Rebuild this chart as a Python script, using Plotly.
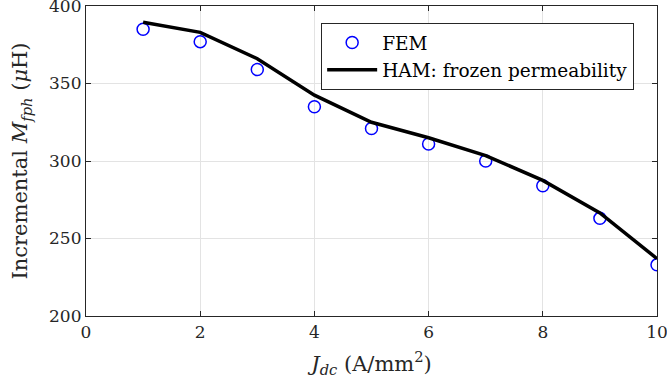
import plotly.graph_objects as go

j_dc = [1, 2, 3, 4, 5, 6, 7, 8, 9, 10]
fem = [385, 377, 359, 335, 321, 311, 300, 284, 263, 233]
ham = [389.5, 383, 366, 342.5, 325, 315, 303.5, 287.5, 266.5, 237]
x_ticks = [0, 2, 4, 6, 8, 10]
y_ticks = [200, 250, 300, 350, 400]

font_family = "DejaVu Serif, Liberation Serif, serif"

fig = go.Figure()
fig.add_trace(go.Scatter(
    x=j_dc, y=fem, mode="markers", name="FEM",
    marker=dict(symbol="circle-open", size=12, color="#0000ff", line=dict(width=1.5, color="#0000ff")),
))
fig.add_trace(go.Scatter(
    x=j_dc, y=ham, mode="lines", name="HAM: frozen permeability",
    line=dict(color="black", width=3.5),
))

axis_common = dict(
    showgrid=True, gridcolor="#e3e3e3", gridwidth=1,
    showline=True, linecolor="#262626", linewidth=1.2, mirror="ticks",
    ticks="inside", ticklen=5, tickcolor="#262626",
    zeroline=False, tickfont=dict(size=17, color="#262626", family=font_family),
    ticklabeloverflow="allow", automargin=False,
)

fig.update_layout(
    width=667, height=385,
    margin=dict(l=86, r=10, t=6, b=69),
    paper_bgcolor="white", plot_bgcolor="white",
    font=dict(family=font_family, color="#262626"),
    showlegend=True,
    legend=dict(
        x=0.96, y=0.945, xanchor="right", yanchor="top",
        bgcolor="white", bordercolor="#262626", borderwidth=1,
        font=dict(size=18.5, color="black", family=font_family),
        itemwidth=50, tracegroupgap=0,
    ),
    xaxis=dict(
        range=[0, 10], tickvals=x_ticks,
        title=dict(text="<i>J</i><sub><i>dc</i></sub> (A/mm<sup>2</sup>)", font=dict(size=21)),
        **axis_common,
    ),
    yaxis=dict(
        range=[200, 400], tickvals=y_ticks,
        title=dict(text="Incremental <i>M</i><sub><i>fph</i></sub> (<i>μ</i>H)", font=dict(size=21)),
        **axis_common,
    ),
)

fig.write_html(
    "out.html",
    config={"displayModeBar": False},
    post_script="document.body.style.margin='0px';",
)
